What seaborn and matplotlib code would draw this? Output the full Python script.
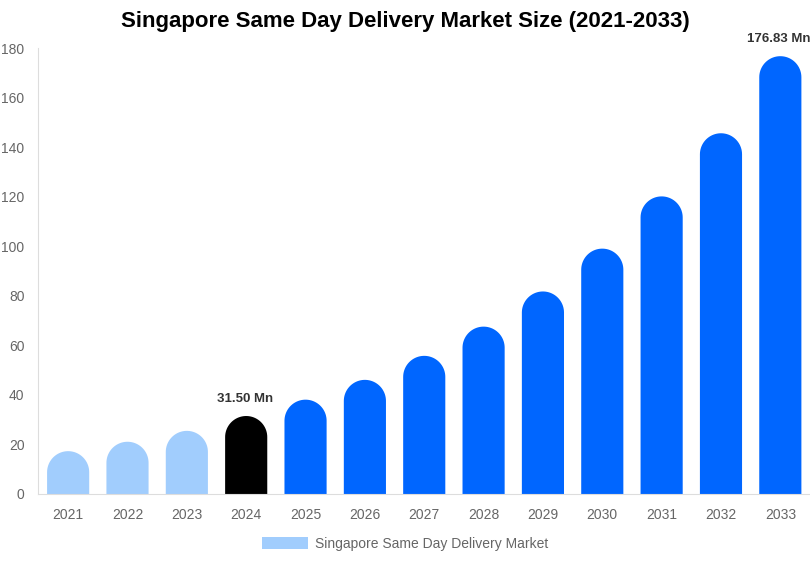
import numpy as np
import matplotlib
matplotlib.use("Agg")
import matplotlib.pyplot as plt
from matplotlib.patches import PathPatch, Patch
from matplotlib.path import Path
import seaborn as sns

years = ["2021", "2022", "2023", "2024", "2025", "2026", "2027",
         "2028", "2029", "2030", "2031", "2032", "2033"]
market_size = [17.3, 21.1, 25.5, 31.50, 38.1, 46.1, 55.8,
               67.6, 81.8, 99.1, 120.2, 145.7, 176.83]
bar_colors = ["#a1cdfd"] * 3 + ["#000000"] + ["#0066ff"] * 9
labelled = {"2024": "31.50 Mn", "2033": "176.83 Mn"}
legend_label = "Singapore Same Day Delivery Market"

sns.set_style("white")
plt.rcParams["font.family"] = ["Liberation Sans", "DejaVu Sans"]

fig = plt.figure(figsize=(8.1, 5.62), dpi=100)
ax = fig.add_axes([0.0475, 0.121, 0.9525, 0.793])

sns.barplot(x=years, y=market_size, hue=years, palette=bar_colors,
            legend=False, width=0.71, saturation=1, ax=ax)
ax.set_ylim(0, 180)
ax.set_xlim(-0.5, len(years) - 0.5)

# swap plain rectangles for bars with a rounded top
fig.canvas.draw()
px_per_x = ax.transData.transform((1, 0))[0] - ax.transData.transform((0, 0))[0]
px_per_y = ax.transData.transform((0, 1))[1] - ax.transData.transform((0, 0))[1]
bars = list(ax.patches)
for bar in bars:
    x0, w, h = bar.get_x(), bar.get_width(), bar.get_height()
    rx = w / 2
    ry = rx * px_per_x / px_per_y
    ry = min(ry, h)
    t = np.linspace(np.pi, 0, 40)
    cx = x0 + rx
    arc = np.column_stack([cx + rx * np.cos(t), h - ry + ry * np.sin(t)])
    verts = np.vstack([[x0, 0], [x0, h - ry], arc, [x0 + w, 0], [x0, 0]])
    codes = [Path.MOVETO] + [Path.LINETO] * (len(verts) - 2) + [Path.CLOSEPOLY]
    ax.add_patch(PathPatch(Path(verts, codes), facecolor=bar.get_facecolor(),
                           edgecolor="none", zorder=2))
    bar.remove()

for i, yr in enumerate(years):
    if yr in labelled:
        ax.annotate(labelled[yr], (i, market_size[i]), xytext=(-1, 8),
                    textcoords="offset points", ha="center", va="bottom",
                    fontsize=9.5, fontweight="bold", color="#333333",
                    annotation_clip=False)

sns.despine(ax=ax, top=True, right=True)
ax.spines["left"].set_color("#dddddd")
ax.spines["bottom"].set_color("#dddddd")
ax.set_yticks(range(0, 181, 20))
ax.tick_params(axis="both", length=0, labelsize=10, labelcolor="#666666")
ax.tick_params(axis="x", pad=10)
ax.tick_params(axis="y", pad=10)
ax.set_xlabel("")
ax.set_ylabel("")

fig.suptitle("Singapore Same Day Delivery Market Size (2021-2033)",
             x=0.5, y=0.961, va="center", fontsize=16, fontweight="bold",
             color="#000000")

handle = Patch(facecolor="#a1cdfd", edgecolor="none")
fig.legend([handle], [legend_label], loc="center", bbox_to_anchor=(0.5, 0.032),
           frameon=False, fontsize=10, labelcolor="#666666",
           handlelength=3.3, handleheight=1.0, handletextpad=0.5)

fig.savefig("out.png", dpi=100, facecolor="white")
